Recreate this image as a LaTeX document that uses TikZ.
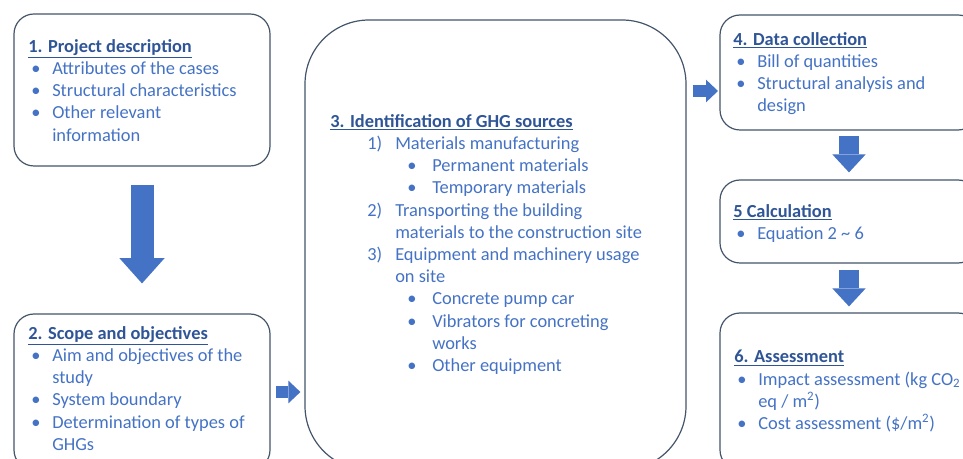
\documentclass[tikz,border=0pt]{standalone}
\usepackage{fontspec}
\setmainfont{Carlito}
\usetikzlibrary{arrows.meta,fit}
\definecolor{stageline}{HTML}{44546A}
\definecolor{headblue}{HTML}{2F5597}
\definecolor{itemblue}{HTML}{4472C4}
\definecolor{flowblue}{HTML}{4472C4}

% list lines inside the stage boxes
\newcommand{\stagehead}[1]{{\bfseries\color{headblue}\underline{#1}}}
\newcommand{\bitem}[1]{\makebox[18pt][l]{\hspace{2.25pt}\textbullet}#1}
\newcommand{\bcont}[1]{\hspace*{18pt}#1}
\newcommand{\nitem}[2]{\hspace*{27.75pt}\makebox[21pt][l]{#1}#2}
\newcommand{\ncont}[1]{\hspace*{48.75pt}#1}
\newcommand{\sitem}[1]{\hspace*{57.75pt}\makebox[18.75pt][l]{\textbullet}#1}
\newcommand{\scont}[1]{\hspace*{76.5pt}#1}

\begin{document}
\begin{tikzpicture}[
  x=0.75pt,
  y=-0.75pt,
  stage/.style={draw=stageline,line width=0.9pt,rounded corners=15pt,inner sep=0pt},
  stagetext/.style={anchor=north west,inner sep=0pt,align=left,text=itemblue,
    font=\fontsize{13.8}{16.65}\selectfont},
  flowbig/.style={draw=flowblue,line width=17.25pt,
    -{Triangle[width=34pt,length=19pt,line width=0pt]}},
  flowsmall/.style={draw=flowblue,line width=9pt,
    -{Triangle[width=17pt,length=9pt,line width=0pt]}},
  flowmid/.style={draw=flowblue,line width=15pt,
    -{Triangle[width=25pt,length=13.5pt,line width=0pt]}}
]
  \useasboundingbox (0,0) rectangle (963,459);

  % Stage frames.
  \node[stage,fit={(14,14) (270,166)}] (project) {};
  \node[stage,fit={(14,314) (270,470)}] (scope) {};
  \node[stage,rounded corners=48pt,fit={(305,20) (686,470)}] (ghg) {};
  \node[stage,fit={(720,15) (978,130)}] (data) {};
  \node[stage,fit={(720,180) (978,263)}] (calc) {};
  \node[stage,fit={(720,313) (978,470)}] (assess) {};

  % Stage contents.
  \node[stagetext] (projecttext) at (28,39) {%
    \stagehead{1. Project description}\\
    \bitem{Attributes of the cases}\\
    \bitem{Structural characteristics}\\
    \bitem{Other relevant}\\
    \bcont{information}};
  \node[stagetext] (scopetext) at (28,326) {%
    \stagehead{2. Scope and objectives}\\
    \bitem{Aim and objectives of the}\\
    \bcont{study}\\
    \bitem{System boundary}\\
    \bitem{Determination of types of}\\
    \bcont{GHGs}};
  \node[stagetext] (ghgtext) at (330,114) {%
    \stagehead{3. Identification of GHG sources}\\
    \nitem{1)}{Materials manufacturing}\\
    \sitem{Permanent materials}\\
    \sitem{Temporary materials}\\
    \nitem{2)}{Transporting the building}\\
    \ncont{materials to the construction site}\\
    \nitem{3)}{Equipment and machinery usage}\\
    \ncont{on site}\\
    \sitem{Concrete pump car}\\
    \sitem{Vibrators for concreting}\\
    \scont{works}\\
    \sitem{Other equipment}};
  \node[stagetext] (datatext) at (733,32) {%
    \stagehead{4. Data collection}\\
    \bitem{Bill of quantities}\\
    \bitem{Structural analysis and}\\
    \bcont{design}};
  \node[stagetext] (calctext) at (733,204) {%
    \stagehead{5 Calculation}\\
    \bitem{Equation 2 \textasciitilde\ 6}};
  \node[stagetext] (assesstext) at (734,350) {%
    \stagehead{6. Assessment}\\
    \bitem{Impact assessment (kg CO\textsubscript{2}}\\
    \bcont{eq / m\textsuperscript{2})}\\
    \bitem{Cost assessment (\$/m\textsuperscript{2})}};

  % Flow between the stages.
  \coordinate (datain) at (720,91);
  \draw[flowbig,shorten <=13.5pt,shorten >=22.5pt] (project) -- (scope);
  \draw[flowsmall,shorten <=3.75pt,shorten >=3pt] (scope.east) -- (scope.east -| ghg.west);
  \draw[flowsmall,shorten <=4.5pt,shorten >=1.5pt] (ghg.east |- datain) -- (datain);
  \draw[flowmid,shorten <=3.75pt,shorten >=5.25pt] (data) -- (calc);
  \draw[flowmid,shorten <=4.5pt,shorten >=4.5pt] (calc) -- (assess);
\end{tikzpicture}
\end{document}
